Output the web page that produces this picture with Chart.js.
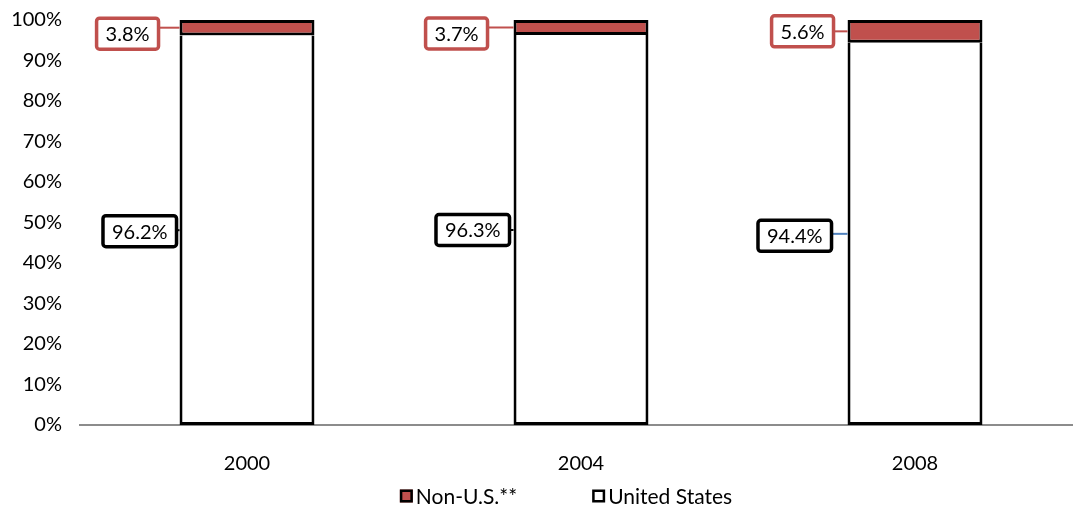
<!DOCTYPE html>
<html>
<head>
<meta charset="utf-8">
<script src="https://cdn.jsdelivr.net/npm/chart.js@4/dist/chart.umd.min.js"></script>
<style>
  html, body { margin: 0; padding: 0; background: #fff; overflow: hidden; }
  #wrap { width: 1082px; height: 510px; }
</style>
</head>
<body>
<div id="wrap"><canvas id="c" width="1082" height="510"></canvas></div>
<script>
// Share of total by origin, per survey year (percent)
const years = ['2000', '2004', '2008'];
const unitedStates = [96.2, 96.3, 94.4];
const nonUS = [3.8, 3.7, 5.6];
const yTicks = [0, 10, 20, 30, 40, 50, 60, 70, 80, 90, 100];

const FONT = 'Lato, "Open Sans", sans-serif';
const RED = '#C0504D';

// callout placement for each label: box right edge gap from bar, vertical shift, leader colour
const calloutStyle = {
  us:    { gap: [3, 4, 16], dy: [1, 0, 2], leader: ['#000', '#000', '#4F81BD'], border: '#000' },
  nonUS: { gap: [21, 26, 14], dy: [6, 6, 0], leader: [RED, RED, RED], border: RED }
};

const callouts = {
  id: 'callouts',
  afterDatasetsDraw(chart) {
    const ctx = chart.ctx;
    ctx.save();
    ctx.font = '20px ' + FONT;
    ctx.textBaseline = 'middle';
    chart.data.datasets.forEach((ds, di) => {
      const style = calloutStyle[ds.key];
      const meta = chart.getDatasetMeta(di);
      meta.data.forEach((bar, i) => {
        const p = bar.getProps(['x', 'y', 'base', 'width'], true);
        const left = p.x - p.width / 2;
        const midY = (p.y + p.base) / 2;
        const text = ds.data[i].toFixed(1) + '%';
        const tw = ctx.measureText(text).width;
        const bw = tw + 18, bh = 31;
        const bx = left - style.gap[i] - bw;
        const by = midY + style.dy[i] - bh / 2;
        // leader line
        ctx.strokeStyle = style.leader[i];
        ctx.lineWidth = 2;
        ctx.beginPath();
        ctx.moveTo(bx + bw, midY);
        ctx.lineTo(left, midY);
        ctx.stroke();
        // box
        ctx.fillStyle = '#fff';
        ctx.strokeStyle = style.border;
        ctx.lineWidth = 3.5;
        ctx.beginPath();
        ctx.roundRect(bx, by, bw, bh, 3);
        ctx.fill();
        ctx.stroke();
        ctx.fillStyle = '#000';
        ctx.textAlign = 'center';
        ctx.fillText(text, bx + bw / 2, by + bh / 2 + 1);
      });
    });
    ctx.restore();
  }
};

// Legend drawn below the axis, top series first
const bottomLegend = {
  id: 'bottomLegend',
  afterDraw(chart) {
    const ctx = chart.ctx;
    const items = chart.data.datasets.slice().reverse();
    ctx.save();
    ctx.font = '21px ' + FONT;
    ctx.textBaseline = 'middle';
    ctx.textAlign = 'left';
    const box = 13, textGap = 3, itemGap = 75;
    const widths = items.map(d => box + textGap + ctx.measureText(d.label).width);
    const total = widths.reduce((a, b) => a + b, 0) + itemGap * (items.length - 1);
    const area = chart.chartArea;
    let x = (area.left + area.right) / 2 - 15 - total / 2;
    const y = 496;
    items.forEach((d, k) => {
      ctx.fillStyle = d.backgroundColor;
      ctx.fillRect(x, y - box / 2, box, box);
      ctx.strokeStyle = '#000';
      ctx.lineWidth = 2.5;
      ctx.strokeRect(x + 1.25, y - box / 2 + 1.25, box - 2.5, box - 2.5);
      ctx.fillStyle = '#000';
      ctx.fillText(d.label, x + box + textGap, y + 1);
      x += widths[k] + itemGap;
    });
    ctx.restore();
  }
};

new Chart(document.getElementById('c'), {
  type: 'bar',
  data: {
    labels: years,
    datasets: [
      { key: 'us', label: 'United States', data: unitedStates,
        backgroundColor: '#FFFFFF', borderColor: '#000', borderWidth: 3, borderSkipped: 'top' },
      { key: 'nonUS', label: 'Non-U.S.**', data: nonUS,
        backgroundColor: RED, borderColor: '#000', borderWidth: 3, borderSkipped: false }
    ]
  },
  options: {
    responsive: false,
    animation: false,
    layout: { padding: { top: 20, left: 0, right: 0, bottom: 0 } },
    datasets: { bar: { categoryPercentage: 1, barPercentage: 0.404 } },
    plugins: { legend: { display: false }, tooltip: { enabled: false } },
    scales: {
      x: {
        stacked: true,
        grid: { display: false, drawTicks: false },
        border: { display: true, color: '#8C8C8C', width: 2 },
        ticks: { color: '#000', font: { family: FONT, size: 20 }, padding: 27 },
        afterFit(scale) { scale.height = 85; scale.paddingLeft = 0; scale.paddingRight = 0; }
      },
      y: {
        stacked: true,
        min: 0, max: 100,
        afterBuildTicks(scale) { scale.ticks = yTicks.map(v => ({ value: v })); },
        grid: { display: false, drawTicks: false },
        border: { display: false },
        ticks: { color: '#000', font: { family: FONT, size: 20 }, padding: 18,
                 callback: v => v + '%' },
        afterFit(scale) { scale.width = 80; scale.paddingTop = 0; scale.paddingBottom = 0; }
      }
    }
  },
  plugins: [callouts, bottomLegend]
});
</script>
</body>
</html>
